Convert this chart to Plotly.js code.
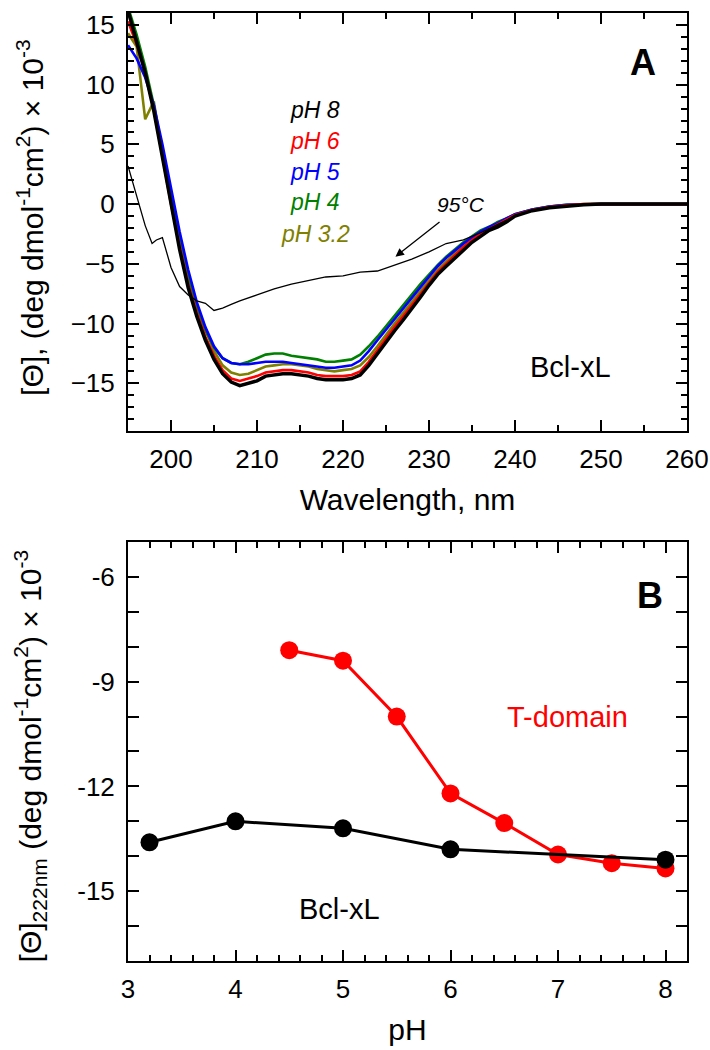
<!DOCTYPE html>
<html>
<head>
<meta charset="utf-8">
<script src="https://cdn.plot.ly/plotly-3.0.1.min.js"></script>
<style>
  html, body { margin: 0; padding: 0; background: #fff; }
  #graph { width: 710px; height: 1050px; }
</style>
</head>
<body>
<div id="graph"></div>
<script>
// Panel A: CD spectra of Bcl-xL at different pH (values x 10^-3)
const wavelength = [195, 196, 197, 198, 199, 200, 201, 202, 203, 204, 205, 206, 207, 208, 209, 210,
  211, 212, 213, 214, 215, 216, 217, 218, 219, 220, 221, 222, 223, 224, 225, 226, 227, 228, 229, 230,
  231, 232, 233, 234, 235, 236, 237, 238, 239, 240, 242, 244, 246, 248, 250, 252, 254, 256, 258, 260];

const pH8 = [16.2, 13.6, 11.0, 7.8, 3.9, -0.3, -3.8, -7.0, -9.4, -11.4, -13.0, -14.2, -14.9, -15.2, -15.0, -14.8,
  -14.4, -14.3, -14.2, -14.2, -14.3, -14.4, -14.6, -14.7, -14.7, -14.7, -14.6, -14.3, -13.5, -12.5, -11.5, -10.6, -9.7, -8.8, -7.8, -6.8,
  -5.9, -5.2, -4.5, -3.8, -3.2, -2.7, -2.2, -1.9, -1.5, -1.0, -0.55, -0.3, -0.15, -0.05, 0, 0, 0, 0, 0, 0];

const pH6 = [15.3, 13.4, 11.0, 7.9, 4.0, 0.0, -3.5, -6.7, -9.1, -11.1, -12.7, -13.9, -14.6, -14.8, -14.6, -14.4,
  -14.1, -14.0, -13.9, -13.9, -14.0, -14.1, -14.3, -14.4, -14.4, -14.4, -14.3, -14.0, -13.2, -12.2, -11.2, -10.3, -9.4, -8.5, -7.5, -6.6,
  -5.7, -5.0, -4.3, -3.6, -3.0, -2.5, -2.1, -1.7, -1.3, -0.9, -0.5, -0.25, -0.1, 0, 0, 0, 0, 0, 0, 0];

const pH5 = [13.3, 12.2, 10.6, 8.3, 5.0, 1.2, -2.3, -5.5, -8.2, -10.3, -11.9, -12.9, -13.3, -13.4, -13.4, -13.3,
  -13.2, -13.2, -13.2, -13.3, -13.4, -13.5, -13.6, -13.7, -13.7, -13.6, -13.5, -13.1, -12.3, -11.4, -10.5, -9.6, -8.7, -7.8, -6.9, -6.0,
  -5.2, -4.5, -3.9, -3.3, -2.8, -2.3, -1.9, -1.6, -1.2, -0.85, -0.45, -0.2, -0.05, 0, 0, 0, 0, 0, 0, 0];

const pH4 = [16.5, 14.2, 11.5, 8.3, 4.5, 0.6, -3.0, -6.1, -8.6, -10.6, -12.0, -12.9, -13.3, -13.4, -13.2, -12.9,
  -12.6, -12.5, -12.5, -12.7, -12.8, -12.9, -13.0, -13.2, -13.2, -13.1, -13.0, -12.6, -11.9, -11.1, -10.2, -9.4, -8.5, -7.6, -6.7, -5.9,
  -5.1, -4.4, -3.8, -3.2, -2.7, -2.2, -1.9, -1.5, -1.2, -0.85, -0.45, -0.2, -0.05, 0, 0, 0, 0, 0, 0, 0];

const pH32 = [14.3, 13.2, 7.1, 8.6, 4.2, 0.2, -3.3, -6.4, -8.9, -10.4, -12.3, -13.5, -14.1, -14.3, -14.2, -13.9,
  -13.6, -13.5, -13.4, -13.4, -13.5, -13.6, -13.8, -13.9, -14.0, -13.9, -13.8, -13.5, -12.8, -11.9, -10.9, -10.0, -9.1, -8.2, -7.2, -6.3,
  -5.5, -4.8, -4.1, -3.5, -2.9, -2.4, -2.0, -1.6, -1.3, -0.9, -0.5, -0.2, -0.1, 0, 0, 0, 0, 0, 0, 0];

// Spectrum at 95 C (thin black)
const wavelength95 = [195, 196, 197, 197.8, 198.3, 199, 200, 201, 202, 203, 204, 205, 206, 207, 208, 210,
  212, 214, 216, 218, 220, 222, 224, 226, 228, 230, 232, 234, 236, 238, 240, 242, 244, 246, 248, 250, 255, 260];
const temp95 = [3.2, 0.6, -1.8, -3.3, -3.0, -2.8, -5.3, -6.9, -7.6, -8.1, -8.3, -8.9, -8.7, -8.4, -8.1, -7.6,
  -7.1, -6.7, -6.4, -6.1, -6.0, -5.7, -5.6, -5.1, -4.6, -4.0, -3.3, -3.0, -2.4, -1.7, -1.0, -0.55, -0.3, -0.15, -0.05, 0, 0, 0];

const seriesNames = ['pH 8', 'pH 6', 'pH 5', 'pH 4', 'pH 3.2'];
const seriesColors = ['#000000', '#ff0000', '#0000ff', '#008000', '#808000'];

// Panel B: ellipticity at 222 nm vs pH
const pHBcl = [3.2, 4, 5, 6, 8];
const thetaBcl = [-13.6, -13.0, -13.2, -13.8, -14.1];
const pHTdom = [4.5, 5, 5.5, 6, 6.5, 7, 7.5, 8];
const thetaTdom = [-8.1, -8.4, -10.0, -12.2, -13.05, -13.95, -14.2, -14.35];

const font = 'Liberation Sans, Arial, sans-serif';

const traces = [];
const curves = [pH8, pH6, pH5, pH4, pH32];
// draw pH 8 last so that it lies on top
[4, 3, 2, 1, 0].forEach(i => {
  traces.push({
    x: wavelength, y: curves[i], type: 'scatter', mode: 'lines', name: seriesNames[i],
    line: { color: seriesColors[i], width: i === 0 ? 3.5 : 2.6 },
    xaxis: 'x', yaxis: 'y'
  });
});
traces.push({
  x: wavelength95, y: temp95, type: 'scatter', mode: 'lines', name: '95°C',
  line: { color: '#000000', width: 1.3 }, xaxis: 'x', yaxis: 'y'
});
traces.push({
  x: pHTdom, y: thetaTdom, type: 'scatter', mode: 'lines+markers', name: 'T-domain',
  line: { color: '#ff0000', width: 3 }, marker: { color: '#ff0000', size: 18 },
  xaxis: 'x2', yaxis: 'y2'
});
traces.push({
  x: pHBcl, y: thetaBcl, type: 'scatter', mode: 'lines+markers', name: 'Bcl-xL',
  line: { color: '#000000', width: 3 }, marker: { color: '#000000', size: 18 },
  xaxis: 'x2', yaxis: 'y2'
});

const axisBase = {
  showline: true, linecolor: '#000', linewidth: 2, mirror: 'ticks',
  ticks: 'inside', tickcolor: '#000', tickwidth: 2, ticklen: 11,
  showgrid: false, zeroline: false,
  tickfont: { family: font, size: 26, color: '#000' }
};

const bclTickVals = [-17, -16, -15, -14, -13, -12, -11, -10, -9, -8, -7, -6, -5];
const bclTickText = ['', '', '-15', '', '', '-12', '', '', '-9', '', '', '-6', ''];

// y-axis titles are placed as rotated annotations so they sit where the original ones do
const yTitleTop = '[Θ], (deg dmol<sup>-1</sup>cm<sup>2</sup>) × 10<sup>-3</sup>';
const yTitleBottom = '[Θ]<sub>222nm</sub> (deg dmol<sup>-1</sup>cm<sup>2</sup>) × 10<sup>-3</sup>';

const layout = {
  width: 710, height: 1050,
  margin: { l: 128, r: 23, t: 13, b: 89 },
  paper_bgcolor: '#fff', plot_bgcolor: '#fff',
  showlegend: false,
  font: { family: font, color: '#000' },
  xaxis: Object.assign({}, axisBase, {
    domain: [0, 1], anchor: 'y', range: [195, 260],
    tick0: 200, dtick: 10, ticklabelstandoff: 4,
    minor: { dtick: 5, ticks: 'inside', ticklen: 6, tickwidth: 2, tickcolor: '#000' },
    title: { text: 'Wavelength, nm', font: { family: font, size: 30 }, standoff: 16 }
  }),
  yaxis: Object.assign({}, axisBase, {
    domain: [0.559, 1], anchor: 'x', range: [-19, 16],
    tick0: 0, dtick: 5, ticklabelstandoff: 6,
    minor: { dtick: 1, ticks: 'inside', ticklen: 6, tickwidth: 2, tickcolor: '#000' }
  }),
  xaxis2: Object.assign({}, axisBase, {
    domain: [0, 1], anchor: 'y2', range: [3, 8.2],
    tick0: 3, dtick: 1, ticklabelstandoff: 4,
    minor: { dtick: 0.2, ticks: 'inside', ticklen: 6, tickwidth: 2, tickcolor: '#000' },
    title: { text: 'pH', font: { family: font, size: 30 }, standoff: 16 }
  }),
  yaxis2: Object.assign({}, axisBase, {
    domain: [0, 0.442], anchor: 'x2', range: [-17, -5],
    tickmode: 'array', tickvals: bclTickVals, ticktext: bclTickText, ticklabelstandoff: 6
  }),
  annotations: [
    { xref: 'paper', yref: 'paper', x: -0.175, y: 0.784, xanchor: 'center', yanchor: 'middle', textangle: -90,
      text: yTitleTop, showarrow: false, font: { family: font, size: 30, color: '#000' } },
    { xref: 'paper', yref: 'paper', x: -0.175, y: 0.216, xanchor: 'center', yanchor: 'middle', textangle: -90,
      text: yTitleBottom, showarrow: false, font: { family: font, size: 30, color: '#000' } },
    { xref: 'x', yref: 'y', x: 216.8, y: 7.9, text: '<i>pH 8</i>', showarrow: false, font: { family: font, size: 23, color: seriesColors[0] } },
    { xref: 'x', yref: 'y', x: 216.8, y: 5.25, text: '<i>pH 6</i>', showarrow: false, font: { family: font, size: 23, color: seriesColors[1] } },
    { xref: 'x', yref: 'y', x: 216.8, y: 2.7, text: '<i>pH 5</i>', showarrow: false, font: { family: font, size: 23, color: seriesColors[2] } },
    { xref: 'x', yref: 'y', x: 216.8, y: 0.2, text: '<i>pH 4</i>', showarrow: false, font: { family: font, size: 23, color: seriesColors[3] } },
    { xref: 'x', yref: 'y', x: 216.8, y: -2.5, text: '<i>pH 3.2</i>', showarrow: false, font: { family: font, size: 23, color: seriesColors[4] } },
    { xref: 'x', yref: 'y', x: 233.7, y: 0, text: '<i>95°C</i>', showarrow: false, font: { family: font, size: 21, color: '#000' } },
    { xref: 'x', yref: 'y', x: 226.1, y: -4.4, axref: 'x', ayref: 'y', ax: 231.4, ay: -1.4, text: '',
      showarrow: true, arrowhead: 2, arrowsize: 1.3, arrowwidth: 1.3, arrowcolor: '#000' },
    { xref: 'x', yref: 'y', x: 246.4, y: -13.6, text: 'Bcl-xL', showarrow: false, font: { family: font, size: 29, color: '#000' } },
    { xref: 'paper', yref: 'paper', x: 0.921, y: 0.948, xanchor: 'center', yanchor: 'middle', text: '<b>A</b>', showarrow: false, font: { family: font, size: 36, color: '#000' } },
    { xref: 'x2', yref: 'y2', x: 7.09, y: -10.0, text: 'T-domain', showarrow: false, font: { family: font, size: 29, color: '#ff0000' } },
    { xref: 'x2', yref: 'y2', x: 4.97, y: -15.5, text: 'Bcl-xL', showarrow: false, font: { family: font, size: 29, color: '#000' } },
    { xref: 'paper', yref: 'paper', x: 0.934, y: 0.386, xanchor: 'center', yanchor: 'middle', text: '<b>B</b>', showarrow: false, font: { family: font, size: 36, color: '#000' } }
  ]
};

Plotly.newPlot('graph', traces, layout, { displayModeBar: false, staticPlot: true });
</script>
</body>
</html>
